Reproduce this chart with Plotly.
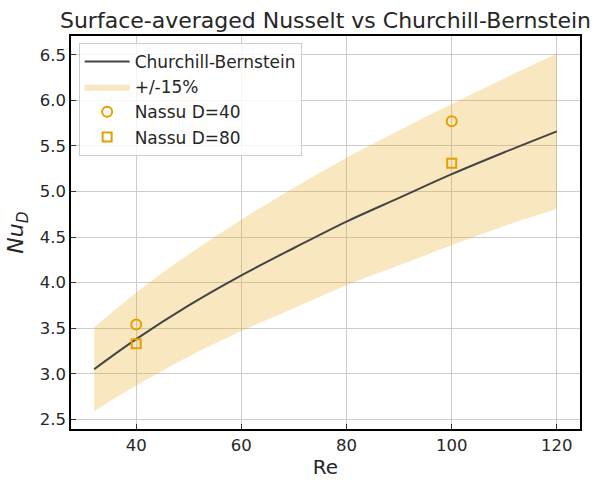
import plotly.graph_objects as go

# Data
re_curve = [32, 40, 50, 60, 70, 80, 90, 100, 110, 120]
nu_cb = [3.05, 3.38, 3.75, 4.08, 4.38, 4.67, 4.93, 5.19, 5.43, 5.66]
nu_upper = [3.51, 3.89, 4.31, 4.69, 5.04, 5.37, 5.67, 5.96, 6.24, 6.51]
nu_lower = [2.59, 2.87, 3.19, 3.47, 3.72, 3.97, 4.19, 4.41, 4.62, 4.81]

re_pts = [40, 100]
nu_d40 = [3.54, 5.77]
nu_d80 = [3.33, 5.31]

x_ticks = [40, 60, 80, 100, 120]
y_ticks = [2.5, 3.0, 3.5, 4.0, 4.5, 5.0, 5.5, 6.0, 6.5]

ORANGE = "#E69F00"
BAND = "rgba(230,159,0,0.25)"
LINE = "#444444"
FONT = "DejaVu Sans"
TXT = "#262626"

fig = go.Figure()

fig.add_trace(go.Scatter(
    x=re_curve, y=nu_lower, mode="lines", showlegend=False,
    line=dict(width=0, shape="spline"), hoverinfo="skip"))
fig.add_trace(go.Scatter(
    x=re_curve, y=nu_upper, mode="lines", name="+/-15%",
    line=dict(width=0, shape="spline"), fill="tonexty", fillcolor=BAND,
    legendrank=2))
fig.add_trace(go.Scatter(
    x=re_curve, y=nu_cb, mode="lines", name="Churchill-Bernstein",
    line=dict(color=LINE, width=2, shape="spline"), legendrank=1))
fig.add_trace(go.Scatter(
    x=re_pts, y=nu_d40, mode="markers", name="Nassu D=40",
    marker=dict(symbol="circle-open", size=10, color=ORANGE, line=dict(width=2)),
    legendrank=3))
fig.add_trace(go.Scatter(
    x=re_pts, y=nu_d80, mode="markers", name="Nassu D=80",
    marker=dict(symbol="square-open", size=9, color=ORANGE, line=dict(width=2)),
    legendrank=4))

axis_common = dict(
    showgrid=True, gridcolor="#cccccc", gridwidth=1,
    showline=True, linecolor="black", linewidth=1.5, mirror=True,
    ticks="inside", ticklen=5, tickwidth=1, tickcolor="#333333",
    tickfont=dict(family=FONT, size=16.5, color=TXT),
    zeroline=False,
)

fig.update_layout(
    width=600, height=490,
    margin=dict(l=71, r=20, t=36, b=61),
    paper_bgcolor="white", plot_bgcolor="white",
    font=dict(family=FONT, color=TXT),
    title=dict(text="Surface-averaged Nusselt vs Churchill-Bernstein",
               x=0.5, xref="paper", xanchor="center",
               y=1 - 20 / 490, yref="container", yanchor="middle",
               font=dict(family=FONT, size=22, color=TXT)),
    xaxis=dict(range=[27.6, 124.4], tickvals=x_ticks,
               title=dict(text="Re", font=dict(family=FONT, size=20, color=TXT), standoff=6),
               **axis_common),
    yaxis=dict(range=[2.394, 6.706], tickvals=y_ticks, tickformat=".1f",
               title=dict(text="<i>Nu</i><sub><i>D</i></sub>",
                          font=dict(family=FONT, size=22, color=TXT), standoff=10),
               **axis_common),
    legend=dict(x=0.015, y=0.982, xanchor="left", yanchor="top",
                traceorder="normal", itemwidth=45,
                bgcolor="rgba(255,255,255,0.8)", bordercolor="#cccccc",
                borderwidth=1, font=dict(family=FONT, size=17, color=TXT),
                tracegroupgap=0),
    showlegend=True,
)

fig.write_html("out.html")
